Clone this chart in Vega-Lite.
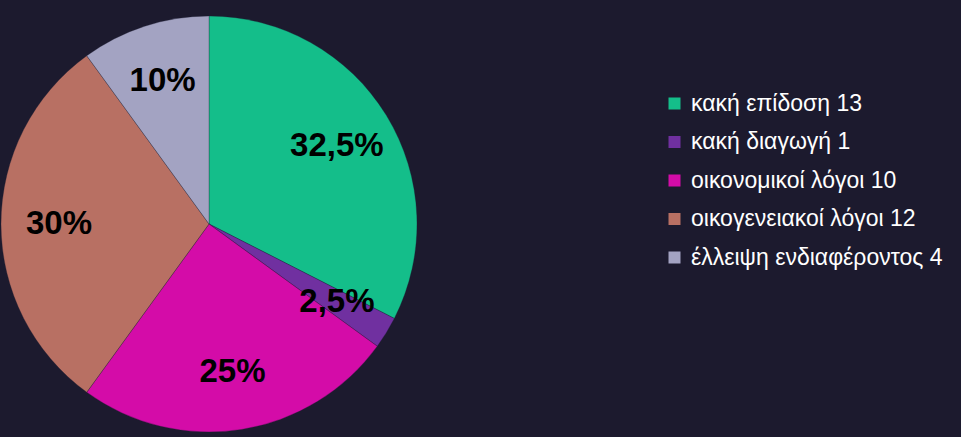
{
  "$schema": "https://vega.github.io/schema/vega-lite/v6.json",
  "autosize": {"type": "none"},
  "width": 418,
  "height": 426,
  "padding": {"top": 11, "left": 0, "right": 543, "bottom": 0},
  "background": "#1c1a2e",
  "config": {"view": {"stroke": null}, "font": "Liberation Sans"},
  "data": {
    "values": [
      {"idx": 1, "cat": "κακή επίδοση 13", "count": 13, "label": "32,5%"},
      {"idx": 2, "cat": "κακή διαγωγή 1", "count": 1, "label": "2,5%"},
      {"idx": 3, "cat": "οικονομικοί λόγοι 10", "count": 10, "label": "25%"},
      {"idx": 4, "cat": "οικογενειακοί λόγοι 12", "count": 12, "label": "30%"},
      {"idx": 5, "cat": "έλλειψη ενδιαφέροντος 4", "count": 4, "label": "10%"}
    ]
  },
  "encoding": {
    "theta": {"field": "count", "type": "quantitative", "stack": true},
    "order": {"field": "idx", "type": "quantitative"}
  },
  "layer": [
    {
      "mark": {"type": "arc", "outerRadius": 208, "stroke": "#1c1a2e", "strokeWidth": 0.3},
      "encoding": {
        "color": {
          "field": "cat",
          "type": "nominal",
          "sort": ["κακή επίδοση 13", "κακή διαγωγή 1", "οικονομικοί λόγοι 10", "οικογενειακοί λόγοι 12", "έλλειψη ενδιαφέροντος 4"],
          "scale": {
            "domain": ["κακή επίδοση 13", "κακή διαγωγή 1", "οικονομικοί λόγοι 10", "οικογενειακοί λόγοι 12", "έλλειψη ενδιαφέροντος 4"],
            "range": ["#14be8a", "#7030a0", "#d40ca8", "#b87063", "#a3a3c2"]
          },
          "legend": {
            "title": null,
            "orient": "none",
            "legendX": 663,
            "legendY": 81,
            "symbolType": "square",
            "symbolSize": 144,
            "symbolStrokeWidth": 0,
            "symbolOpacity": 1,
            "labelFontSize": 23,
            "labelFont": "Liberation Sans",
            "labelColor": "#ffffff",
            "labelOffset": 5,
            "labelLimit": 400,
            "rowPadding": 14.5
          }
        }
      }
    },
    {
      "mark": {"type": "text", "radius": 150, "fontSize": 33, "fontWeight": "bold", "font": "Liberation Sans", "color": "#000000"},
      "encoding": {
        "text": {"field": "label", "type": "nominal"}
      }
    }
  ]
}
